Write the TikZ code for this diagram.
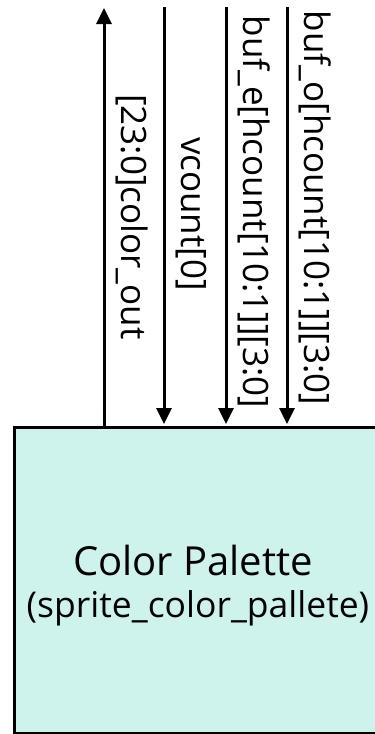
\documentclass[tikz,border=0pt]{standalone}
\usepackage{fontspec}
\setmainfont{Open Sans}
\usetikzlibrary{arrows.meta,calc}

\definecolor{palfill}{RGB}{206,243,236}

\tikzset{
  block/.style={draw=black, line width=3pt, fill=palfill, rectangle,
    minimum width=390pt, minimum height=306pt, inner sep=0pt},
  wire/.style={line width=3pt, -{Triangle[length=16pt,width=15pt]}},
  siglabel/.style={rotate=-90, anchor=base, inner sep=0pt,
    font=\fontsize{35}{42}\selectfont},
  titletext/.style={anchor=base, inner sep=0pt, font=\fontsize{40}{48}\selectfont},
  subtext/.style={anchor=base, inner sep=0pt, font=\fontsize{35.5}{42}\selectfont}
}

\begin{document}
\begin{tikzpicture}[x=1pt, y=-1pt]
  \useasboundingbox (0,0) rectangle (375,734);
  \clip (0,0) rectangle (375,734);

  % palette module (right side runs past the page edge)
  \node[block] (pal) at (209,580) {};
  \node[titletext] (ptitle) at (193,575) {Color Palette};
  \node[subtext] (psub) at (198,617) {(sprite\_color\_pallete)};

  % free ends of the wires
  \coordinate (tout) at (104,8);
  \coordinate (tv)   at (164,7);
  \coordinate (te)   at (226,7);
  \coordinate (to)   at (287,7);

  % output wire
  \draw[wire] (tout |- pal.north) -- (tout);
  % input wires
  \draw[wire, shorten >=1.5pt] (tv) -- (tv |- pal.north);
  \draw[wire, shorten >=1.5pt] (te) -- (te |- pal.north);
  \draw[wire, shorten >=1.5pt] (to) -- (to |- pal.north);

  % wire labels
  \node[siglabel] (lout) at (121,217) {[23:0]color\_out};
  \node[siglabel] (lv)   at (181,214) {vcount[0]};
  \node[siglabel] (le)   at (243,212) {buf\_e[hcount[10:1]][3:0]};
  \node[siglabel] (lo)   at (304,208) {buf\_o[hcount[10:1]][3:0]};
\end{tikzpicture}
\end{document}
